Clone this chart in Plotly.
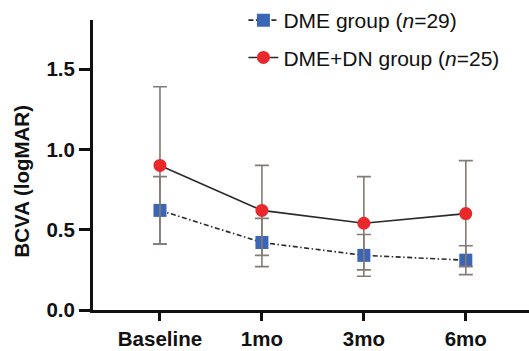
import plotly.graph_objects as go

categories = ["Baseline", "1mo", "3mo", "6mo"]
dme_mean = [0.62, 0.42, 0.34, 0.31]
dme_sd = [0.21, 0.15, 0.13, 0.09]
dn_mean = [0.90, 0.62, 0.54, 0.60]
dn_sd = [0.49, 0.28, 0.29, 0.33]
y_ticks = [0.0, 0.5, 1.0, 1.5]
y_tick_labels = ["0.0", "0.5", "1.0", "1.5"]

font_family = "Arial, Liberation Sans, Helvetica, sans-serif"
err_color = "#857b76"
line_color = "#2a2a2a"

fig = go.Figure()
fig.add_trace(go.Scatter(
    x=categories, y=dme_mean, mode="lines+markers",
    name="DME group (<i>n</i>=29)", legendgroup="a",
    line=dict(color=line_color, width=1.6, dash="5px,2.5px,1.5px,2.5px"),
    marker=dict(symbol="square", size=13, color="#3b65b5"),
    error_y=dict(type="data", array=dme_sd, visible=True, color=err_color, thickness=1.6, width=7),
))
fig.add_trace(go.Scatter(
    x=categories, y=dn_mean, mode="lines+markers",
    name="DME+DN group (<i>n</i>=25)", legendgroup="b",
    line=dict(color=line_color, width=1.6),
    marker=dict(symbol="circle", size=13, color="#e8282a"),
    error_y=dict(type="data", array=dn_sd, visible=True, color=err_color, thickness=1.6, width=7),
))

fig.add_annotation(
    text="BCVA (logMAR)", textangle=-90, showarrow=False,
    xref="paper", yref="paper", x=-0.163, y=0.446, xanchor="center", yanchor="middle",
    font=dict(size=20.5, family=font_family, color="#111111", weight="bold"),
)

fig.update_layout(
    width=529, height=351,
    margin=dict(l=93, r=0, t=14, b=41),
    paper_bgcolor="white", plot_bgcolor="white",
    font=dict(family=font_family, color="#111111"),
    showlegend=True,
    legend=dict(x=0.345, y=1.07, xanchor="left", yanchor="top",
                font=dict(size=21, family=font_family, color="#111111"),
                tracegroupgap=7, bgcolor="rgba(0,0,0,0)", itemwidth=30),
    xaxis=dict(
        type="category", range=[-0.657, 3.62],
        showline=True, linecolor="#111111", linewidth=3,
        ticks="outside", ticklen=8, tickwidth=3, tickcolor="#111111",
        tickfont=dict(size=20.5, family=font_family, color="#111111", weight="bold"),
        showgrid=False, zeroline=False,
    ),
    yaxis=dict(
        range=[0, 1.805], tickvals=y_ticks, ticktext=y_tick_labels,
        showline=True, linecolor="#111111", linewidth=3,
        ticks="outside", ticklen=11, tickwidth=3, tickcolor="#111111",
        tickfont=dict(size=20.5, family=font_family, color="#111111", weight="bold"),
        showgrid=False, zeroline=False,
    ),
)

fig.write_html("out.html", config={"displayModeBar": False},
               post_script="document.body.style.margin='0';")
